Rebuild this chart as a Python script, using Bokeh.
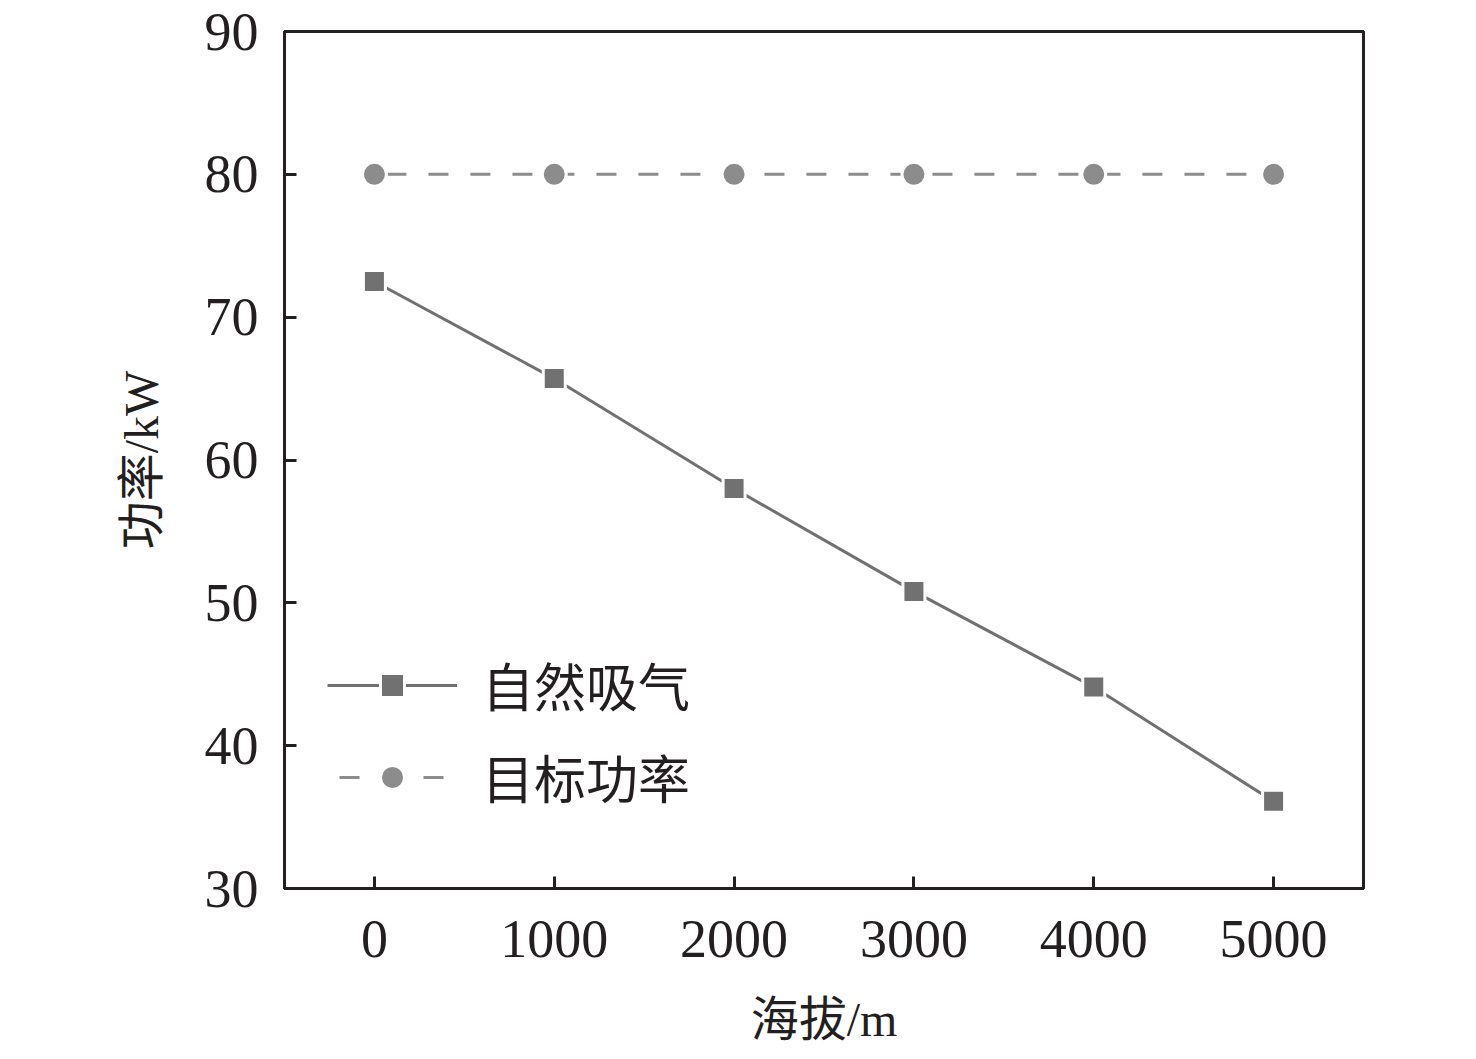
from bokeh.plotting import figure
from bokeh.embed import file_html
from bokeh.resources import INLINE
from bokeh.models import FixedTicker, Range1d

altitude = [0, 1000, 2000, 3000, 4000, 5000]
natural_power = [72.5, 65.7, 58.0, 50.8, 44.1, 36.1]
target_power = [80, 80, 80, 80, 80, 80]
x_ticks = [0, 1000, 2000, 3000, 4000, 5000]
y_ticks = [30, 40, 50, 60, 70, 80, 90]
name_natural = "自然吸气"
name_target = "目标功率"
x_label = "海拔/m"
y_label = "功率/kW"

FONT = "Liberation Serif, Noto Sans CJK SC"
C1 = "#717171"
C2 = "#8c8c8c"

p = figure(width=1468, height=1051, output_backend="svg", toolbar_location=None,
           x_range=Range1d(-500, 5500), y_range=Range1d(30, 90),
           min_border_left=284, min_border_right=105, min_border_top=31, min_border_bottom=163)
p.grid.visible = False
p.outline_line_color = "#231f20"
p.outline_line_width = 3
p.outline_line_alpha = 1

p.line(altitude, natural_power, line_color=C1, line_width=3, legend_label=name_natural)
p.scatter(altitude, natural_power, marker="square", size=22, fill_color=C1,
          line_color="white", line_width=3, legend_label=name_natural)
p.line(altitude, target_power, line_color=C2, line_width=3, line_dash="20 22",
       line_dash_offset=-12, legend_label=name_target)
p.scatter(altitude, target_power, marker="circle", size=24, fill_color=C2,
          line_color="white", line_width=3, legend_label=name_target)

for ax in (p.xaxis[0], p.yaxis[0]):
    ax.axis_line_color = "#231f20"
    ax.axis_line_width = 3
    ax.major_tick_in = 12
    ax.major_tick_out = 0
    ax.major_tick_line_width = 3
    ax.major_tick_line_color = "#231f20"
    ax.minor_tick_line_color = None
    ax.major_label_text_font = FONT
    ax.major_label_text_font_size = "54px"
    ax.major_label_text_color = "#231f20"
    ax.axis_label_text_font = FONT
    ax.axis_label_text_font_size = "48px"
    ax.axis_label_text_font_style = "normal"
    ax.axis_label_text_color = "#231f20"

p.xaxis.ticker = FixedTicker(ticks=x_ticks)
p.yaxis.ticker = FixedTicker(ticks=y_ticks)
p.xaxis.axis_label = x_label
p.yaxis.axis_label = y_label
p.xaxis.major_label_standoff = 32
p.yaxis.major_label_standoff = 26
p.xaxis.axis_label_standoff = 33
p.yaxis.axis_label_standoff = 34

lg = p.legend[0]
lg.location = (43, 74)
lg.background_fill_alpha = 0
lg.border_line_color = None
lg.padding = 0
lg.margin = 0
lg.spacing = 17
lg.glyph_width = 130
lg.glyph_height = 60
lg.label_height = 60
lg.label_standoff = 25
lg.label_text_font = FONT
lg.label_text_font_size = "52px"
lg.label_text_color = "#231f20"

open("out.html", "w").write(file_html(p, INLINE))
